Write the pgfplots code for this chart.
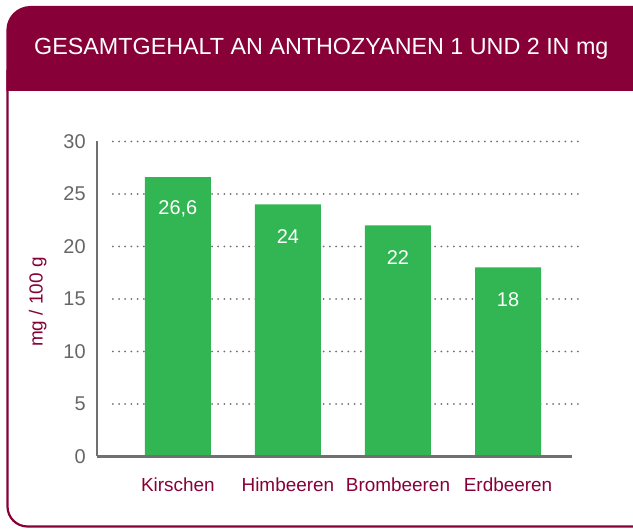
\documentclass[border=0pt]{standalone}
\usepackage{fontspec}
\setmainfont{Liberation Sans}
\usepackage{pgfplots}
\pgfplotsset{compat=1.18}
\definecolor{maroon}{HTML}{870037}
\definecolor{bargreen}{HTML}{32B553}
\definecolor{axgray}{HTML}{707070}
\definecolor{tickgray}{HTML}{666666}
\definecolor{dotgray}{HTML}{707070}
\begin{document}
\begin{tikzpicture}[x=1bp,y=1bp]
\useasboundingbox (0,0) rectangle (633,530);
\begin{scope}
\clip (0,0) rectangle (633,530);
\fill[maroon] (6.4,439) -- (6.4,500) arc[start angle=180,end angle=90,radius=24] -- (660,524) -- (660,439) -- cycle;
\draw[maroon, line width=2.2bp] (660,3.5) -- (27.5,3.5) arc[start angle=270,end angle=180,radius=20] -- (7.5,460);
\node[white, font=\fontsize{23.4}{23.4}\selectfont, anchor=base west, inner sep=0pt] at (34,475) {GESAMTGEHALT AN ANTHOZYANEN 1 UND 2 IN mg};
\end{scope}
\begin{axis}[
  at={(88,70)}, anchor=south west,
  scale only axis, width=475bp, height=315bp,
  xmin=-0.736, xmax=3.58, ymin=0, ymax=30,
  clip=false,
  axis on top=true,
  axis x line*=bottom, axis y line*=left,
  axis line style={draw=axgray, line width=2.5bp},
  major tick length=0pt,
  ytick={0,5,...,30},
  xtick=data,
  xticklabels={Kirschen,Himbeeren,Brombeeren,Erdbeeren},
  /pgf/number format/assume math mode=true,
  /pgf/number format/use comma,
  yticklabel style={font=\fontsize{20}{20}\selectfont, text=tickgray, anchor=east, inner sep=0pt, xshift=-11bp},
  xticklabel style={font=\fontsize{19}{19}\selectfont, text=maroon, anchor=base, inner sep=0pt, yshift=-35bp},
  ylabel={mg / 100 g},
  every axis y label/.style={at={(axis description cs:0,0.49)}, xshift=-59bp, rotate=90, anchor=center, font=\fontsize{19}{19}\selectfont, text=maroon},
  ybar, bar width=66bp,
  nodes near coords,
  every node near coord/.append style={anchor=center, yshift=-32bp, text=white, font=\fontsize{20}{20}\selectfont},
]
\pgfplotsinvokeforeach{5,10,15,20,25,30}{
  \draw[dotgray, line width=2bp, line cap=round, dash pattern=on 0bp off 6.2bp] (axis cs:-0.591,#1) -- (axis cs:3.662,#1);
}
\addplot[fill=bargreen, draw=none] coordinates {(0,26.6) (1,24) (2,22) (3,18)};
\end{axis}
\end{tikzpicture}
\end{document}
